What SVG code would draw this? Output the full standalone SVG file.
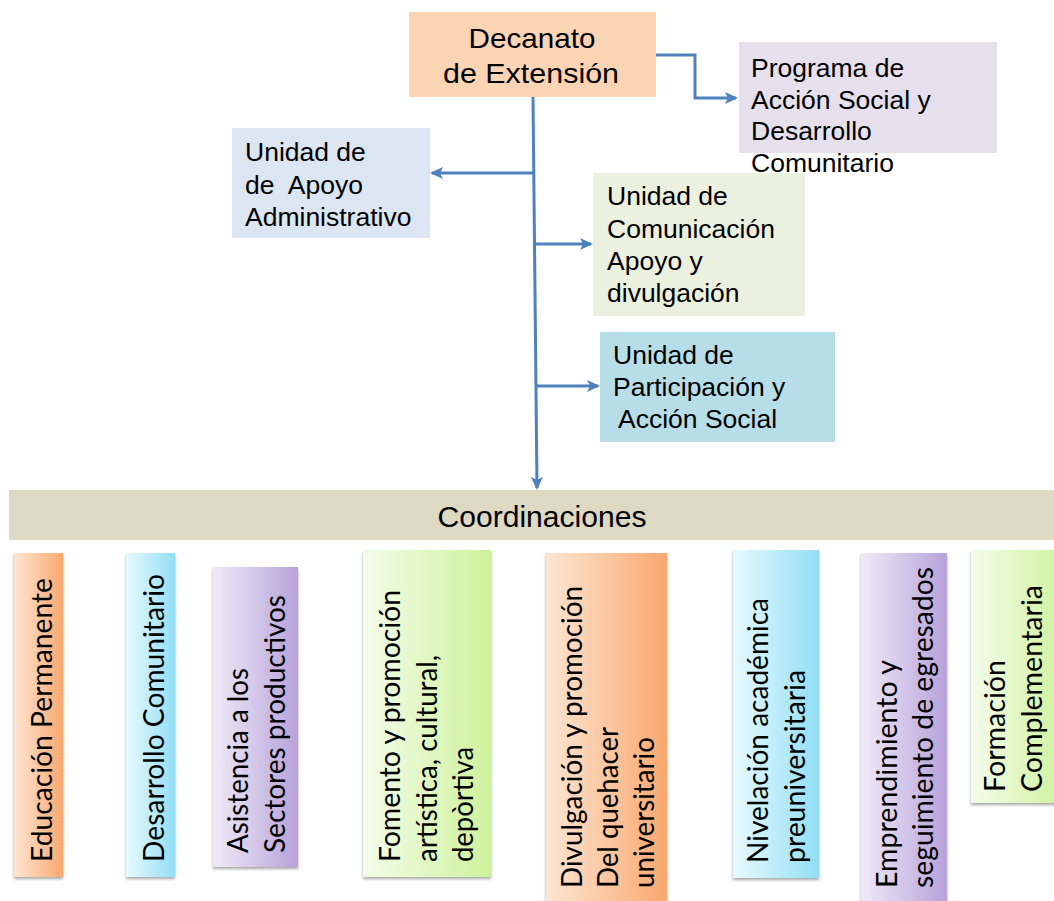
<svg xmlns="http://www.w3.org/2000/svg" width="1054" height="901" viewBox="0 0 1054 901">
<style>
.t{font-family:"Liberation Sans",Arial,sans-serif;font-size:26.5px;fill:#000}
.v{font-family:Lato,"Open Sans",sans-serif;font-size:28px;fill:#000}
.ln{fill:none;stroke:#4F81BD;stroke-width:3}
</style>
<defs>
<marker id="ah" markerUnits="userSpaceOnUse" markerWidth="14" markerHeight="14" refX="11" refY="7" orient="auto">
<path d="M0,1 L13,7 L0,13 L3,7 z" fill="#4F81BD"/>
</marker>
<linearGradient id="gO" x1="0" y1="0" x2="1" y2="0"><stop offset="0" stop-color="#FDE6D3"/><stop offset="1" stop-color="#F9A86F"/></linearGradient>
<linearGradient id="gC" x1="0" y1="0" x2="1" y2="0"><stop offset="0" stop-color="#E8FAFE"/><stop offset="1" stop-color="#92DEF5"/></linearGradient>
<linearGradient id="gP" x1="0" y1="0" x2="1" y2="0"><stop offset="0" stop-color="#EFEAF6"/><stop offset="1" stop-color="#B7A2DA"/></linearGradient>
<linearGradient id="gG" x1="0" y1="0" x2="1" y2="0"><stop offset="0" stop-color="#F4FCEB"/><stop offset="1" stop-color="#CEF29B"/></linearGradient>
<filter id="sh" x="-10%" y="-5%" width="120%" height="110%"><feDropShadow dx="0" dy="2" stdDeviation="1.5" flood-color="#000" flood-opacity="0.35"/></filter>
</defs>

<g id="connectors">
<path class="ln" d="M655,55 H695 V98 H736" marker-end="url(#ah)"/>
<path class="ln" d="M533,97 L537,488" marker-end="url(#ah)"/>
<path class="ln" d="M533,173 H432" marker-end="url(#ah)"/>
<path class="ln" d="M535,244 H591" marker-end="url(#ah)"/>
<path class="ln" d="M537,386 H598" marker-end="url(#ah)"/>
</g>

<g id="decanato">
<rect x="409" y="12" width="247" height="85" fill="#FBD4B4"/>
<text class="t" x="532" y="48" text-anchor="middle" style="font-size:28px" textLength="127" lengthAdjust="spacingAndGlyphs">Decanato</text>
<text class="t" x="531" y="83" text-anchor="middle" style="font-size:28px" textLength="176" lengthAdjust="spacingAndGlyphs">de Extensión</text>
</g>

<g id="programa">
<rect x="739" y="42" width="258" height="111" fill="#E5E0EC"/>
<text class="t" x="751" y="77">Programa de</text>
<text class="t" x="751" y="109">Acción Social y</text>
<text class="t" x="751" y="140">Desarrollo</text>
<text class="t" x="751" y="172">Comunitario</text>
</g>

<g id="apoyo">
<rect x="232" y="128" width="198" height="110" fill="#DCE6F2"/>
<text class="t" x="245" y="161">Unidad de</text>
<text class="t" x="245" y="194" xml:space="preserve">de  Apoyo</text>
<text class="t" x="245" y="226">Administrativo</text>
</g>

<g id="comunicacion">
<rect x="593" y="173" width="212" height="143" fill="#EBF1DE"/>
<text class="t" x="607" y="205">Unidad de</text>
<text class="t" x="607" y="238">Comunicación</text>
<text class="t" x="607" y="270">Apoyo y</text>
<text class="t" x="607" y="302">divulgación</text>
</g>

<g id="participacion">
<rect x="600" y="332" width="235" height="110" fill="#B7DEE8"/>
<text class="t" x="613" y="364">Unidad de</text>
<text class="t" x="613" y="396">Participación y</text>
<text class="t" x="618" y="428">Acción Social</text>
</g>

<g id="coordinaciones">
<rect x="9" y="490" width="1045" height="50" fill="#DDD9C3"/>
<text class="t" x="542" y="527" text-anchor="middle" style="font-size:29px" textLength="209" lengthAdjust="spacingAndGlyphs">Coordinaciones</text>
</g>

<g id="c1">
<rect x="14" y="553" width="49" height="324" fill="url(#gO)" filter="url(#sh)"/>
<text class="v" transform="translate(52,862) rotate(-90)" textLength="284" lengthAdjust="spacingAndGlyphs">Educación Permanente</text>
</g>
<g id="c2">
<rect x="126" y="553" width="49" height="324" fill="url(#gC)" filter="url(#sh)"/>
<text class="v" transform="translate(164,862) rotate(-90)" textLength="288" lengthAdjust="spacingAndGlyphs">Desarrollo Comunitario</text>
</g>
<g id="c3">
<rect x="213" y="567" width="85" height="300" fill="url(#gP)" filter="url(#sh)"/>
<text class="v" transform="translate(248,853) rotate(-90)" textLength="185" lengthAdjust="spacingAndGlyphs">Asistencia a los</text>
<text class="v" transform="translate(285,853) rotate(-90)" textLength="258" lengthAdjust="spacingAndGlyphs">Sectores productivos</text>
</g>
<g id="c4">
<rect x="363" y="550" width="128" height="327" fill="url(#gG)" filter="url(#sh)"/>
<text class="v" transform="translate(400,862) rotate(-90)" textLength="272" lengthAdjust="spacingAndGlyphs">Fomento y promoción</text>
<text class="v" transform="translate(437,862) rotate(-90)" textLength="207" lengthAdjust="spacingAndGlyphs">artística, cultural,</text>
<text class="v" transform="translate(473,862) rotate(-90)" textLength="115" lengthAdjust="spacingAndGlyphs">depòrtiva</text>
</g>
<g id="c5">
<rect x="546" y="553" width="121" height="360" fill="url(#gO)" filter="url(#sh)"/>
<text class="v" transform="translate(582,888) rotate(-90)" textLength="302" lengthAdjust="spacingAndGlyphs">Divulgación y promoción</text>
<text class="v" transform="translate(618,888) rotate(-90)" textLength="161" lengthAdjust="spacingAndGlyphs">Del quehacer</text>
<text class="v" transform="translate(654,888) rotate(-90)" textLength="151" lengthAdjust="spacingAndGlyphs">universitario</text>
</g>
<g id="c6">
<rect x="733" y="550" width="86" height="328" fill="url(#gC)" filter="url(#sh)"/>
<text class="v" transform="translate(768,863) rotate(-90)" textLength="265" lengthAdjust="spacingAndGlyphs">Nivelación académica</text>
<text class="v" transform="translate(805,863) rotate(-90)" textLength="193" lengthAdjust="spacingAndGlyphs">preuniversitaria</text>
</g>
<g id="c7">
<rect x="861" y="553" width="86" height="360" fill="url(#gP)" filter="url(#sh)"/>
<text class="v" transform="translate(897,888) rotate(-90)" textLength="228" lengthAdjust="spacingAndGlyphs">Emprendimiento y</text>
<text class="v" transform="translate(933,888) rotate(-90)" textLength="321" lengthAdjust="spacingAndGlyphs">seguimiento de egresados</text>
</g>
<g id="c8">
<rect x="971" y="550" width="95" height="253" fill="url(#gG)" filter="url(#sh)"/>
<text class="v" transform="translate(1005,792) rotate(-90)" textLength="132" lengthAdjust="spacingAndGlyphs">Formación</text>
<text class="v" transform="translate(1042,792) rotate(-90)" textLength="207" lengthAdjust="spacingAndGlyphs">Complementaria</text>
</g>
</svg>
